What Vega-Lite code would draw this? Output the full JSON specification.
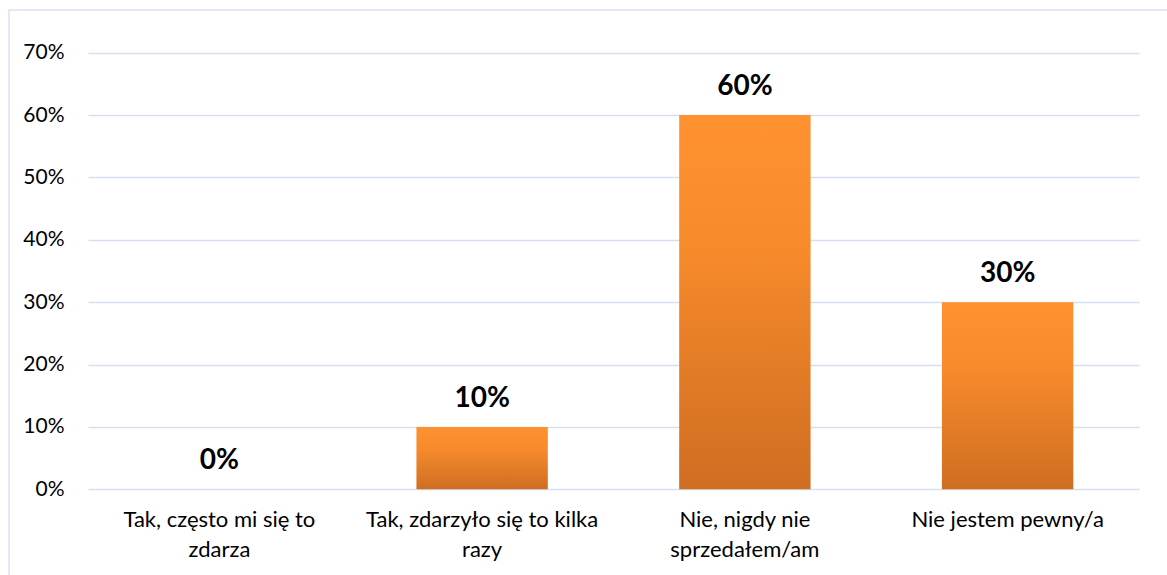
{
  "$schema": "https://vega.github.io/schema/vega-lite/v6.json",
  "width": 1170,
  "height": 570,
  "autosize": {"type": "none"},
  "padding": {"left": 9, "top": 10, "right": 0, "bottom": 0},
  "background": "white",
  "config": {
    "view": {"stroke": "#D9E1F2", "strokeWidth": 1.5},
    "font": "Lato"
  },
  "data": {
    "values": [
      {"category": "Tak, często mi się to zdarza", "value": 0},
      {"category": "Tak, zdarzyło się to kilka razy", "value": 0.1},
      {"category": "Nie, nigdy nie sprzedałem/am", "value": 0.6},
      {"category": "Nie jestem pewny/a", "value": 0.3}
    ]
  },
  "encoding": {
    "x": {
      "field": "category",
      "type": "nominal",
      "sort": null,
      "scale": {"range": [79, 1130], "paddingInner": 0.5, "paddingOuter": 0.25},
      "axis": {
        "title": null,
        "domain": false,
        "ticks": false,
        "tickSize": 0,
        "grid": false,
        "labelAngle": 0,
        "labelFont": "Lato",
        "labelFontSize": 22,
        "labelColor": "#000000",
        "labelPadding": 20,
        "labelLineHeight": 30,
        "labelLimit": 0,
        "offset": -90.7,
        "labelExpr": "datum.value == 'Tak, często mi się to zdarza' ? ['Tak, często mi się to', 'zdarza'] : datum.value == 'Tak, zdarzyło się to kilka razy' ? ['Tak, zdarzyło się to kilka', 'razy'] : datum.value == 'Nie, nigdy nie sprzedałem/am' ? ['Nie, nigdy nie', 'sprzedałem/am'] : datum.value"
      }
    },
    "y": {
      "field": "value",
      "type": "quantitative",
      "scale": {"domain": [0, 0.7], "range": [479.3, 42.7], "nice": false},
      "axis": {
        "title": null,
        "domain": false,
        "ticks": false,
        "tickSize": 0,
        "format": ".0%",
        "values": [0, 0.1, 0.2, 0.3, 0.4, 0.5, 0.6, 0.7],
        "labelFont": "Lato",
        "labelFontSize": 21,
        "labelColor": "#000000",
        "labelPadding": 24,
        "offset": -79,
        "grid": true,
        "gridColor": "#D6DFF0",
        "gridWidth": 1.5
      }
    }
  },
  "layer": [
    {
      "mark": {
        "type": "bar",
        "color": {
          "gradient": "linear",
          "x1": 0, "y1": 0, "x2": 0, "y2": 1,
          "stops": [
            {"offset": 0, "color": "#FF9130"},
            {"offset": 0.35, "color": "#F78B2C"},
            {"offset": 1, "color": "#CF6D21"}
          ]
        }
      }
    },
    {
      "mark": {
        "type": "text",
        "dy": -20,
        "baseline": "alphabetic",
        "fontSize": 28,
        "fontWeight": "bold",
        "font": "Lato",
        "color": "#000000"
      },
      "encoding": {
        "text": {"field": "value", "type": "quantitative", "format": ".0%"}
      }
    }
  ]
}
